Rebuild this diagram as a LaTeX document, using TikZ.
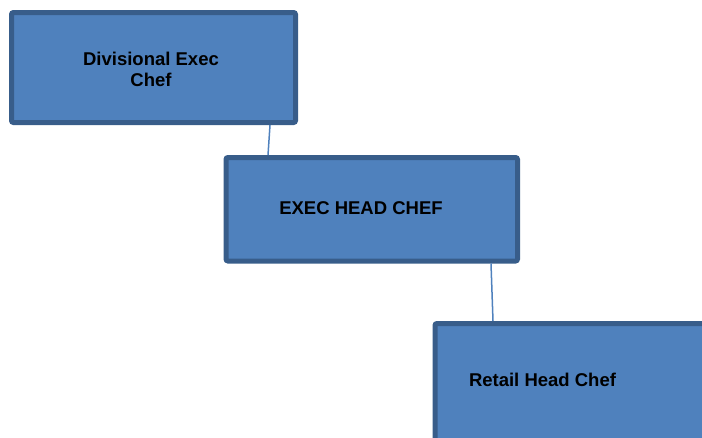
\documentclass[tikz,border=0pt]{standalone}
\usepackage{fontspec}
\setmainfont{Liberation Sans}
\usepackage{tikz}
\usetikzlibrary{calc}
\definecolor{boxfill}{HTML}{4F81BD}
\definecolor{boxedge}{HTML}{385D8A}

\begin{document}
\begin{tikzpicture}[x=1pt, y=-1pt,
    chefbox/.style={draw=boxedge, line width=5pt, fill=boxfill, rounded corners=2pt, rectangle, inner sep=0pt},
    cheftext/.style={font=\bfseries\fontsize{18.5}{21}\selectfont, align=center, inner sep=0pt},
    link/.style={draw=boxfill, line width=1.5pt}]
\useasboundingbox (0,0) rectangle (702,437);
\node[chefbox, minimum width=284pt, minimum height=110pt] (divexec) at (153.5,67.5) {};
\node[chefbox, minimum width=291.5pt, minimum height=103.5pt] (exechead) at (371.75,209.25) {};
\node[chefbox, minimum width=300pt, minimum height=150pt] (retail) at (585,398.5) {};
\draw[link] ([xshift=116.5pt]divexec.south) -- ([xshift=-103.75pt]exechead.north);
\draw[link] ([xshift=119.25pt]exechead.south) -- ([xshift=-92pt]retail.north);
\node[cheftext] (divexec text) at (151,69) {Divisional Exec\\Chef};
\node[cheftext] (exechead text) at (361,208.5) {EXEC HEAD CHEF};
\node[cheftext] (retail text) at (542.5,380) {Retail Head Chef};
\end{tikzpicture}
\end{document}
